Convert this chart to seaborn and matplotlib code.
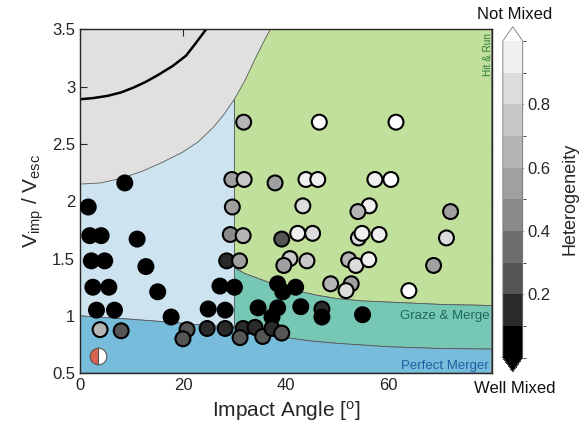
import numpy as np
import pandas as pd
import seaborn as sns
import matplotlib.pyplot as plt
from matplotlib.colors import ListedColormap, BoundaryNorm
import matplotlib as mpl

#%% data
angle = [1.6, 8.7, 1.9, 4.1, 11.1, 2.2, 4.8, 12.8, 2.5, 5.6, 15.1, 3.2, 6.7, 17.7, 24.9, 28.2, 27.2, 30.0,
         3.9, 8.0, 20.8, 20.0, 24.7, 28.2,
         29.5, 31.9, 29.6, 29.2, 31.7, 28.5, 31.0, 31.8,
         46.5, 61.4, 37.9, 43.9, 46.2, 57.3, 60.4, 43.3, 56.2, 54.0, 72.0, 39.2, 42.3, 45.2,
         54.1, 54.8, 58.1, 71.2, 40.8, 39.6, 44.1, 52.2, 53.6, 56.1, 68.7, 48.7, 52.7, 51.7, 63.9,
         38.4, 41.9, 39.4, 34.6, 38.4, 37.3, 42.9, 47.0, 47.0, 54.9,
         31.7, 34.0, 31.1, 35.5, 37.3, 39.2]
v_ratio = [1.95, 2.16, 1.70, 1.70, 1.67, 1.48, 1.48, 1.43, 1.25, 1.25, 1.21, 1.05, 1.05, 0.99, 1.06, 1.05, 1.26, 1.25,
           0.88, 0.87, 0.88, 0.80, 0.89, 0.89,
           2.19, 2.19, 1.95, 1.71, 1.70, 1.48, 1.48, 2.69,
           2.69, 2.69, 2.16, 2.19, 2.19, 2.19, 2.19, 1.96, 1.96, 1.91, 1.91, 1.67, 1.72, 1.72,
           1.68, 1.72, 1.71, 1.68, 1.50, 1.44, 1.48, 1.49, 1.44, 1.49, 1.44, 1.28, 1.28, 1.22, 1.22,
           1.28, 1.25, 1.21, 1.07, 1.07, 0.99, 1.08, 1.06, 0.99, 1.01,
           0.89, 0.90, 0.81, 0.82, 0.89, 0.85]
heterogeneity = [0.05] * 18 + \
    [0.7, 0.25, 0.25, 0.25, 0.15, 0.15,
     0.55, 0.75, 0.55, 0.45, 0.7, 0.15, 0.55, 0.65,
     1.0, 1.0, 0.55, 0.92, 0.92, 0.92, 1.0, 0.85, 0.92, 0.65, 0.55, 0.25, 0.92, 0.85,
     0.85, 0.92, 0.92, 0.85, 0.75, 0.55, 0.75, 0.7, 0.85, 0.92, 0.55, 0.65, 0.55, 0.85, 1.0,
     0.05, 0.05, 0.05, 0.05, 0.05, 0.05, 0.05, 0.15, 0.05, 0.05,
     0.15, 0.15, 0.25, 0.25, 0.15, 0.25]

# regime boundaries
upper_x = [0, 4, 8, 12, 16, 20, 23, 26, 28, 30, 32, 34, 36, 37]
upper_y = [2.15, 2.16, 2.20, 2.26, 2.34, 2.43, 2.52, 2.65, 2.76, 2.89, 3.05, 3.24, 3.42, 3.5]
merger_x = [0, 10, 17.3, 25, 30, 35, 40, 45, 50, 55, 60, 70, 80]
merger_y = [1.0, 0.97, 0.945, 0.915, 0.9, 0.85, 0.81, 0.78, 0.76, 0.745, 0.73, 0.715, 0.71]
graze_x = [30, 32, 35, 38, 42, 46, 50, 55, 60, 70, 80]
graze_y = [1.42, 1.37, 1.32, 1.27, 1.22, 1.18, 1.15, 1.13, 1.12, 1.10, 1.09]
line_x = [0, 2.5, 5.4, 8, 10.3, 12.7, 15.1, 18, 20.6, 22.5, 24.5]
line_y = [2.89, 2.90, 2.92, 2.95, 2.99, 3.04, 3.10, 3.18, 3.27, 3.38, 3.5]

grey_levels = ['#000000', '#2a2a2a', '#555555', '#6e6e6e', '#8a8a8a',
               '#a0a0a0', '#b4b4b4', '#c8c8c8', '#dcdcdc', '#f0f0f0']
cbar_ticks = [0.2, 0.4, 0.6, 0.8]
marker_pos = (3.4, 0.65)

#%%
sns.set_style('ticks')
plt.rcParams['font.family'] = ['Liberation Sans', 'DejaVu Sans']
plt.rcParams['mathtext.fontset'] = 'custom'
plt.rcParams['mathtext.rm'] = 'Liberation Sans'
plt.rcParams['mathtext.it'] = 'Liberation Sans:italic'

fig = plt.figure(figsize=(5.84, 4.38), dpi=100)
ax = fig.add_axes([0.137, 0.148, 0.705, 0.785])
cax = fig.add_axes([0.861, 0.151, 0.034, 0.788])

ax.set_facecolor('#e0e0e0')
edge = dict(edgecolor='#5a5a5a', linewidth=0.6)

mx, my = np.array(merger_x), np.array(merger_y)
ux, uy = np.array(upper_x), np.array(upper_y)
gx, gy = np.array(graze_x), np.array(graze_y)

# light blue (x < 30)
bx = list(mx[mx <= 30]) + list(ux[ux <= 30][::-1])
by = list(my[mx <= 30]) + list(uy[ux <= 30][::-1])
ax.fill(bx, by, facecolor='#cde3f0', **edge)
# hit & run (green)
hx = list(gx) + [80] + list(ux[ux >= 30][::-1])
hy = list(gy) + [3.5] + list(uy[ux >= 30][::-1])
ax.fill(hx, hy, facecolor='#c0e09c', **edge)
# graze & merge
tx = list(mx[mx >= 30]) + list(gx[::-1])
ty = list(my[mx >= 30]) + list(gy[::-1])
ax.fill(tx, ty, facecolor='#76c8b4', **edge)
# perfect merger
px = [0, 80] + list(mx[::-1])
py = [0.5, 0.5] + list(my[::-1])
ax.fill(px, py, facecolor='#78bcdb', **edge)

ax.plot(line_x, line_y, color='black', lw=1.8, zorder=2)

ax.text(79.3, 3.47, 'Hit & Run', rotation=90, ha='center', va='top', fontsize=7.2, color='#2c7a3a')
ax.text(79.5, 1.0, 'Graze & Merge', ha='right', va='center', fontsize=9.5, color='#1c6b58')
ax.text(79.5, 0.565, 'Perfect Merger', ha='right', va='center', fontsize=9.5, color='#1f5fa0')

#%% points
df = pd.DataFrame({'angle': angle, 'v_ratio': v_ratio, 'het': heterogeneity})
cmap = ListedColormap(grey_levels).with_extremes(over='white', under='black')
norm = BoundaryNorm(np.linspace(0, 1, 11), ncolors=10)
sns.scatterplot(data=df, x='angle', y='v_ratio', hue='het', palette=cmap, hue_norm=norm,
                s=115, edgecolor='black', linewidth=1.5, legend=False, ax=ax, zorder=3)

ax.plot([marker_pos[0]], [marker_pos[1]], 'o', ms=12, fillstyle='left', mfc='#d9634f',
        mfcalt='white', mec='#555555', mew=0.8, zorder=4)

ax.set_xlim(0, 80)
ax.set_ylim(0.5, 3.5)
ax.set_xticks([0, 20, 40, 60])
ax.set_yticks(np.arange(0.5, 3.51, 0.5))
ax.set_yticklabels(['0.5', '1', '1.5', '2', '2.5', '3', '3.5'])
ax.tick_params(direction='in', top=True, right=True, length=5, width=0.8, labelsize=12,
               colors='#262626')
for s in ax.spines.values():
    s.set_color('#262626')
    s.set_linewidth(1.0)
ax.set_xlabel('Impact Angle [$^{\\rm o}$]', fontsize=15, color='#262626')
ax.set_ylabel('V$_{\\rm imp}$ / V$_{\\rm esc}$', fontsize=15, color='#262626')

#%% colorbar
cb = fig.colorbar(mpl.cm.ScalarMappable(norm=norm, cmap=cmap), cax=cax, extend='both',
                  extendfrac=0.045, ticks=cbar_ticks)
cb.outline.set_edgecolor('#777777')
cb.outline.set_linewidth(0.6)
cb.ax.tick_params(direction='in', length=4, labelsize=12, colors='#262626')
cb.set_label('Heterogeneity', fontsize=13, color='#262626', labelpad=8)
fig.text(0.882, 0.968, 'Not Mixed', ha='center', va='center', fontsize=12, color='#111111')
fig.text(0.882, 0.114, 'Well Mixed', ha='center', va='center', fontsize=12, color='#111111')

plt.savefig('out.png', dpi=100)
